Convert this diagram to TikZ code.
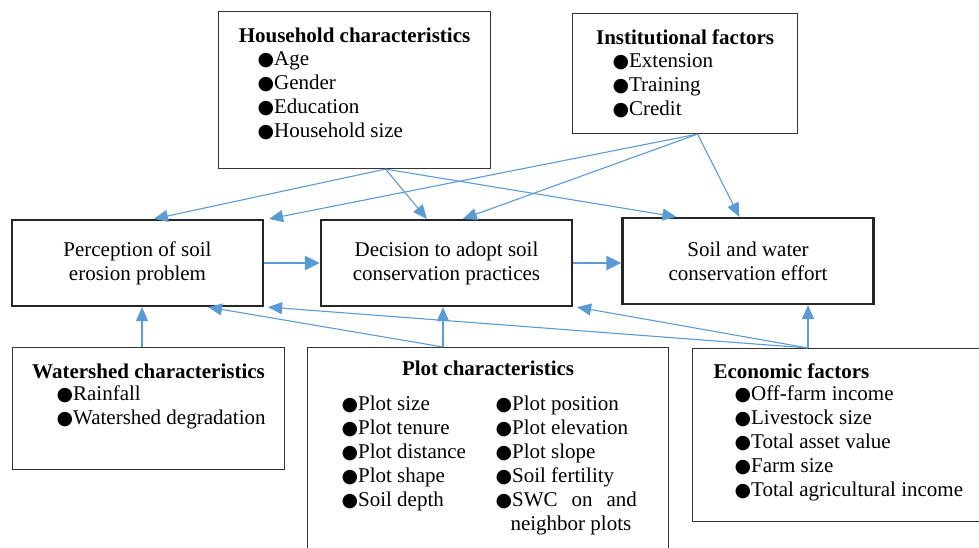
\documentclass[tikz,border=0pt]{standalone}
\usepackage{fontspec}
\setmainfont{Liberation Serif}
\newfontfamily\bulfont{DejaVu Sans}
\usetikzlibrary{arrows.meta,positioning,calc}
\definecolor{linkblue}{HTML}{5B9BD5}
\definecolor{boxgray}{HTML}{333333}
\newcommand{\bul}{\raisebox{0.5pt}{\bulfont\fontsize{19}{24}\selectfont ●}}
\newcommand{\boxtitle}[1]{{\centering\bfseries\rule{0pt}{31pt}#1\par}}

\begin{document}
\begin{tikzpicture}[
    x=1pt, y=-1pt,
    every node/.style={font=\fontsize{21}{24}\selectfont},
    mainbox/.style={draw=black!85, line width=2.2pt, align=center, minimum width=251pt, minimum height=86pt, inner sep=0pt},
    listbox/.style={draw=boxgray, line width=1.1pt, inner sep=0pt, anchor=north west},
    link/.style={draw=linkblue, line width=1.1pt, -{Triangle[length=14pt,width=12pt]}},
    mainlink/.style={draw=linkblue, line width=2.8pt, -{Triangle[length=15pt,width=14pt]}}]
  \useasboundingbox (0,0) rectangle (979,548);

  % factor boxes
  \node[listbox] (hh) at (218,11) {\parbox[t][157pt][t]{272pt}{%
    \boxtitle{Household characteristics}\vspace{-1pt}
    \hspace*{39pt}\bul Age\par
    \hspace*{39pt}\bul Gender\par
    \hspace*{39pt}\bul Education\par
    \hspace*{39pt}\bul Household size\par}};
  \node[listbox] (inst) at (572,13) {\parbox[t][120pt][t]{225pt}{%
    \boxtitle{Institutional factors}\vspace{-1pt}
    \hspace*{40pt}\bul Extension\par
    \hspace*{40pt}\bul Training\par
    \hspace*{40pt}\bul Credit\par}};
  \node[listbox] (wsh) at (12,347) {\parbox[t][122pt][t]{272pt}{%
    \boxtitle{Watershed characteristics}\vspace{-2pt}
    \hspace*{44pt}\bul Rainfall\par
    \hspace*{44pt}\bul Watershed degradation\par}};
  \node[listbox] (plot) at (307,347) {\parbox[t][201pt][t]{361pt}{%
    {\centering\bfseries\rule{0pt}{28pt}Plot characteristics\par}\vspace{11pt}
    \hspace*{34pt}\makebox[154pt][l]{\bul Plot size}\bul Plot position\par
    \hspace*{34pt}\makebox[154pt][l]{\bul Plot tenure}\bul Plot elevation\par
    \hspace*{34pt}\makebox[154pt][l]{\bul Plot distance}\bul Plot slope\par
    \hspace*{34pt}\makebox[154pt][l]{\bul Plot shape}\bul Soil fertility\par
    \hspace*{34pt}\makebox[154pt][l]{\bul Soil depth}\bul SWC\hspace{14pt}on\hspace{14pt}and\par
    \hspace*{203pt}neighbor plots\par}};
  \node[listbox] (econ) at (692,348) {\parbox[t][173pt][t]{287pt}{%
    \hspace*{21pt}\textbf{\rule{0pt}{30pt}Economic factors}\par\vspace{-2pt}
    \hspace*{42pt}\bul Off-farm income\par
    \hspace*{42pt}\bul Livestock size\par
    \hspace*{42pt}\bul Total asset value\par
    \hspace*{42pt}\bul Farm size\par
    \hspace*{42pt}\bul Total agricultural income\par}};

  % outcome boxes
  \node[mainbox] (perc) at (137.5,263) {Perception of soil\\erosion problem};
  \node[mainbox] (dec) at (446.5,263) {Decision to adopt soil\\conservation practices};
  \node[mainbox] (swc) at (748,261) {Soil and water\\conservation effort};

  \coordinate (hhout) at ([xshift=31pt]hh.south);
  \coordinate (instout) at ([xshift=12.5pt]inst.south);
  \coordinate (wshout) at ([xshift=130pt]wsh.north west);
  \coordinate (plotout) at ([xshift=136pt]plot.north west);
  \coordinate (econout) at ([xshift=116pt]econ.north west);

  % links
  \draw[link] (hhout) -- ([xshift=143pt]perc.north west);
  \draw[link] (hhout) -- ([xshift=107pt]dec.north west);
  \draw[link] (hhout) -- ([xshift=55pt]swc.north west);
  \draw[link] (instout) -- ([xshift=5pt]perc.north east);
  \draw[link] (instout) -- ([xshift=143pt]dec.north west);
  \draw[link] (instout) -- ([xshift=118pt]swc.north west);
  \draw[mainlink] (perc.east) -- (dec.west);
  \draw[mainlink] (dec.east) -- (dec.east -| swc.west);
  \draw[link] (wshout) -- (wshout |- perc.south);
  \draw[link] (plotout) -- (plotout |- dec.south);
  \draw[link] (plotout) -- ([xshift=-56pt]perc.south east);
  \draw[link] (econout) -- (econout |- swc.south);
  \draw[link] (econout) -- ([xshift=4pt]dec.south east);
  \draw[link] (econout) -- ([xshift=4pt]perc.south east);
\end{tikzpicture}
\end{document}
